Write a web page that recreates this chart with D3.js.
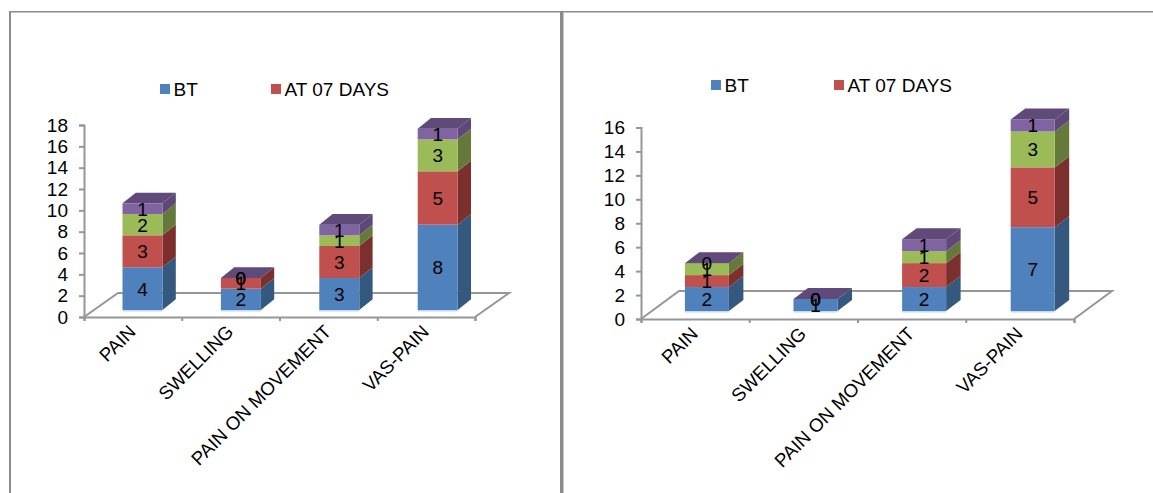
<!DOCTYPE html>
<html lang="en">
	<head>
		<meta charset="utf-8">
		<title>D3: Two 3D stacked columns</title>
		<script src="https://cdn.jsdelivr.net/npm/d3@7"></script>
		<style>
			html, body { margin: 0; padding: 0; background: #fff; }
			svg { display: block; }
			text { font-family: "Liberation Sans", Arial, sans-serif; fill: #000; }
			.axis path, .axis line, .floor { stroke: #969696; stroke-width: 2px; fill: none; }
		</style>
	</head>
	<body>
		<script>

			//Width and height
			let w = 1153;
			let h = 493;

			let categories = ["PAIN", "SWELLING", "PAIN ON MOVEMENT", "VAS-PAIN"];
			let legendLabels = ["BT", "AT 07 DAYS"];

			//Left chart, bottom segment to top segment
			let leftBT = [4, 2, 3, 8];
			let leftAT07 = [3, 1, 3, 5];
			let leftThird = [2, 0, 1, 3];
			let leftFourth = [1, 0, 1, 1];
			let leftMax = 18;

			//Right chart
			let rightBT = [2, 1, 2, 7];
			let rightAT07 = [1, 0, 2, 5];
			let rightThird = [1, 0, 1, 3];
			let rightFourth = [0, 0, 1, 1];
			let rightMax = 16;

			let front = ["#4f81bd", "#c0504d", "#9bbb59", "#8064a2"];
			let side = ["#35587f", "#7b302e", "#65793a", "#5d4878"];
			let topColor = "#5f4a7a";

			let svg = d3.select("body")
						.append("svg")
						  .attr("width", w)
						  .attr("height", h);

			//Panel frame
			svg.append("rect").attr("x", 10).attr("y", 11).attr("width", w - 10).attr("height", 1.5).attr("fill", "#8c8c8c");
			svg.append("rect").attr("x", 9).attr("y", 11).attr("width", 2).attr("height", h - 11).attr("fill", "#8c8c8c");
			svg.append("rect").attr("x", 560).attr("y", 11).attr("width", 3.5).attr("height", h - 11).attr("fill", "#8c8c8c");

			function drawChart(series, maxVal, g) {
				let rows = categories.map((c, i) => ({
					cat: c, s0: series[0][i], s1: series[1][i], s2: series[2][i], s3: series[3][i]
				}));
				let stack = d3.stack().keys(["s0", "s1", "s2", "s3"])(rows);

				let x = d3.scaleBand().domain(categories).range([g.x0, g.x1]);
				let xEdges = d3.scaleLinear().domain([0, 4]).range([g.x0, g.x1]);
				//Columns sit on the floor, a little further apart than the axis ticks
				let xBars = d3.scaleBand().domain(categories).range(g.barRange);
				let y = d3.scaleLinear().domain([0, maxVal]).range([g.y0, g.y1]);

				//Floor
				svg.append("path")
				   .attr("class", "floor")
				   .attr("d", d3.line()([
						[g.x0, g.y0], [g.x0 + g.floorDx, g.y0 - g.floorDy],
						[g.x1 + g.floorDx, g.y0 - g.floorDy], [g.x1, g.y0]
				   ]));

				//Axes
				svg.append("g")
				   .attr("class", "axis")
				   .attr("transform", `translate(${g.x0},0)`)
				   .call(d3.axisLeft(y).tickValues(d3.range(0, maxVal + 1, 2)).tickSizeOuter(0).tickSize(5).tickPadding(g.tickPad))
				   .selectAll("text")
				     .style("font-size", "19px")
				     .style("font-family", "'Liberation Sans', Arial, sans-serif");

				svg.append("g")
				   .attr("class", "axis")
				   .attr("transform", `translate(0,${g.y0})`)
				   .call(d3.axisBottom(xEdges).tickValues(d3.range(0, 5)).tickSizeOuter(0).tickSize(4).tickFormat(""));

				//Category labels
				svg.selectAll(null)
				   .data(categories)
				   .enter()
				   .append("text")
				     .attr("transform", d => `translate(${x(d) + x.bandwidth() / 2 + g.labelDx},${g.y0 + g.labelDy}) rotate(-45)`)
				     .attr("text-anchor", "end")
				     .style("font-size", "18.7px")
				     .text(d => d);

				//Bars, one group per category so the segments paint bottom up
				let barX = d => xBars(d) + (xBars.bandwidth() - g.barW) / 2;
				let px = v => y(v) - g.shiftY;

				stack.forEach((layer, li) => {
					layer.forEach(d => {
						let cat = d.data.cat;
						let l = barX(cat), r = l + g.barW;
						let t = px(d[1]), b = px(d[0]);
						svg.append("path")
						   .attr("fill", side[li])
						   .attr("d", d3.line()([[r, b], [r + g.depthX, b - g.depthY], [r + g.depthX, t - g.depthY], [r, t]]) + "Z");
						svg.append("rect")
						   .attr("x", l)
						   .attr("y", t)
						   .attr("width", g.barW)
						   .attr("height", b - t)
						   .attr("fill", front[li]);
						if (li === 3) {
							svg.append("path")
							   .attr("fill", topColor)
							   .attr("d", d3.line()([[l, t], [l + g.depthX, t - g.depthY], [r + g.depthX, t - g.depthY], [r, t]]) + "Z");
						}
					});
				});

				//Faint glow under the columns
				svg.selectAll(null)
				   .data(categories)
				   .enter()
				   .append("rect")
				     .attr("x", d => barX(d))
				     .attr("y", px(0))
				     .attr("width", g.barW)
				     .attr("height", 1.5)
				     .attr("fill", "#c6d9f0");

				//Value labels
				stack.forEach(layer => {
					layer.forEach(d => {
						svg.append("text")
						   .attr("x", barX(d.data.cat) + g.barW / 2)
						   .attr("y", (px(d[0]) + px(d[1])) / 2)
						   .attr("dy", "0.36em")
						   .attr("text-anchor", "middle")
						   .style("font-size", "19px")
						   .text(d[1] - d[0]);
					});
				});

				//Legend, only the first two entries fit
				legendLabels.forEach((name, i) => {
					svg.append("rect")
					   .attr("x", g.legendX[i])
					   .attr("y", g.legendY)
					   .attr("width", 10)
					   .attr("height", 10)
					   .attr("fill", front[i]);
					svg.append("text")
					   .attr("x", g.legendX[i] + 13.5)
					   .attr("y", g.legendY + 11.5)
					   .style("font-size", "19px")
					   .text(name);
				});
			}

			drawChart([leftBT, leftAT07, leftThird, leftFourth], leftMax, {
				x0: 84, x1: 475, y0: 317, y1: 125,
				floorDx: 34, floorDy: 24,
				barRange: [93.3, 486.9],
				barW: 40, shiftY: 7, depthX: 13.3, depthY: 10.7,
				tickPad: 11, labelDx: 4, labelDy: 16,
				legendX: [160, 271], legendY: 84
			});

			drawChart([rightBT, rightAT07, rightThird, rightFourth], rightMax, {
				x0: 641, x1: 1074, y0: 319, y1: 127.5,
				floorDx: 38, floorDy: 28,
				barRange: [652.6, 1087],
				barW: 44, shiftY: 8, depthX: 14.5, depthY: 11,
				tickPad: 11, labelDx: 4, labelDy: 16,
				legendX: [711, 834], legendY: 80
			});

		</script>
	</body>
</html>
